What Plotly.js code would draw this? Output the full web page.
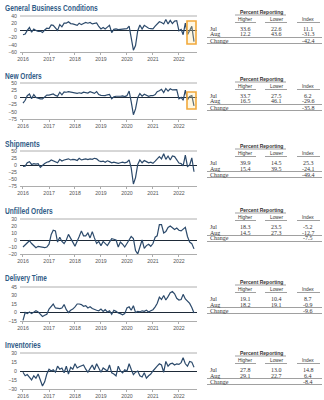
<!DOCTYPE html>
<html><head><meta charset="utf-8">
<script src="https://cdn.plot.ly/plotly-3.0.1.min.js"></script>
<style>html,body{margin:0;padding:0;background:#fff}#c{width:324px;height:400px}</style>
</head><body><div id="c"></div>
<script>
// ---- data (monthly, Jan 2016 – Aug 2022) ----
const startYear = 2016;
const panelTitles = ['General Business Conditions','New Orders','Shipments','Unfilled Orders','Delivery Time','Inventories'];
const generalBusiness = [-12,-10,0,8,-5,4,0,-3,-2,-6,1,6, 5,15,14,6,0,16,10,20,20,24,19,18, 17,14,20,16,19,22,20,22,18,20,21,11, 4,8,4,9,14,-6,3,4,2,3,3,4, 5,12,-20,-55,-42,-1,15,4,14,10,6,5, 4,12,17,24,22,18,30,18,28,19,26,27, -1,3,-12,20,-12,-2,11.1,-31.3];
const newOrders = [-20,-10,6,12,-5,10,0,-3,-5,-5,3,8, 8,10,12,7,4,18,9,19,18,20,18,17, 16,14,16,14,18,17,15,20,16,14,20,10, 7,6,6,9,10,-5,2,4,3,4,5,3, 6,22,-15,-60,-40,0,13,4,11,8,4,6, 6,10,20,23,28,17,31,22,30,26,27,27, -5,0,-10,25,-9,3,6.2,-29.6];
const shipments = [-5,-4,8,12,2,5,3,5,-8,0,5,10, 12,18,15,10,8,20,14,18,20,22,18,20, 19,16,24,18,20,22,19,22,20,24,22,15, 12,14,10,15,12,8,10,9,6,8,10,8, 10,18,-10,-68,-45,2,18,8,16,12,8,10, 6,14,22,30,22,40,20,32,18,32,30,16, 7,5,-3,35,-5,0,25.3,-24.1];
const unfilledOrders = [-10,-7,-4,-1,-5,-8,-11,-9,-10,-10,-11,-10, -6,8,14,13,-3,4,-2,-5,0,8,3,-3, -9,0,5,13,6,6,10,3,12,3,-5,-2, -8,-2,-5,-8,-3,2,1,0,-10,-3,-6,-10, -5,0,5,2,-15,-20,-10,0,-12,-8,-6,-9, -5,4,6,22,22,10,12,18,20,18,15,17, 14,13,16,18,5,-3,-5.2,-12.7];
const deliveryTime = [-14,0,-2,1,-2,0,3,1,-4,-7,-5,-3, 6,12,15,8,7,7,8,14,5,0,4,6, 10,15,15,14,11,12,8,10,7,5,4,3, 6,2,5,1,3,-3,4,2,-1,-2,-4,-2, 8,10,4,12,0,2,1,3,2,4,1,3, 5,10,16,27,23,30,22,28,35,37,33,25, 22,23,32,24,20,16,8.7,-0.9];
const inventories = [-2,-8,-6,-10,-15,-8,-12,-5,-15,-25,-18,-5, 3,0,2,-2,8,3,5,-3,8,-5,6,3, 12,5,7,8,10,3,-2,4,10,2,12,5, -2,5,2,0,10,-3,-5,-8,8,0,-3,2, 0,12,3,-6,-2,0,-8,-10,-3,-12,-8,-5, 0,5,8,12,10,-2,16,8,12,13,10,12, 11,14,22,12,8,16,14.8,6.4];
const yRanges = [[-60,40],[-75,50],[-75,50],[-20,30],[-15,45],[-30,30]];
const yDticks = [20,25,25,10,15,15];
const rowLabels = ['Jul','Aug','Change'];
const higher = [[33.6,12.2],[33.7,16.5],[39.9,15.4],[18.3,14.5],[19.1,18.2],[27.8,29.1]];
const lower  = [[22.6,43.6],[27.5,46.1],[14.5,39.5],[23.5,27.3],[10.4,19.1],[13.0,22.7]];
const indexVals = [[11.1,-31.3,-42.4],[6.2,-29.6,-35.8],[25.3,-24.1,-49.4],[-5.2,-12.7,-7.5],[8.7,-0.9,-9.6],[14.8,6.4,-8.4]];
const series = [generalBusiness,newOrders,shipments,unfilledOrders,deliveryTime,inventories];

// ---- layout geometry (pixels) ----
const W=324,H=400;
const px=x=>x/W, py=y=>1-y/H;
const plotTop=[16,83,151,219,287,353], plotBot=[52,119,186,254,321,389];
const titleY=[8,76,144,211,278,345];
const titleW=[93,37,35,48,42,36];
const tableY=[12,79,146,210,282,353];
const X0=20,X1=197;

const dates=[];
for(let i=0;i<generalBusiness.length;i++){const y=startYear+Math.floor(i/12),m=i%12+1;dates.push(y+'-'+String(m).padStart(2,'0')+'-01');}

const fmt=v=>v.toFixed(1);
const data=[],annotations=[],shapes=[],titleIdx=[];
const layout={width:W,height:H,margin:{l:0,r:0,t:0,b:0},paper_bgcolor:'#fff',plot_bgcolor:'#fff',showlegend:false,font:{family:'Liberation Sans, Arial, sans-serif',color:'#444'}};
const lineC='#2c4a6b', titleC='#2f5b86', txtC='#333', rule='#777';
const serif='Liberation Serif, Times New Roman, serif';
series.forEach((s,k)=>{
  const n=k+1, xa='xaxis'+(n>1?n:''), ya='yaxis'+(n>1?n:'');
  const xr='x'+(n>1?n:''), yr='y'+(n>1?n:'');
  data.push({x:dates,y:s,type:'scatter',mode:'lines',line:{color:lineC,width:1.2},xaxis:xr,yaxis:yr,hoverinfo:'skip'});
  layout[xa]={domain:[px(X0),px(X1)],anchor:yr,range:['2015-11-20','2022-09-12'],type:'date',tick0:'2016-01-01',dtick:'M12',tickformat:'%Y',
    showgrid:false,zeroline:false,showline:true,linecolor:'#999',linewidth:0.8,ticks:'outside',ticklen:2,tickcolor:'#999',tickwidth:0.8,
    tickfont:{size:5.2,color:'#555'},fixedrange:true};
  layout[ya]={domain:[py(plotBot[k]),py(plotTop[k])],anchor:xr,range:yRanges[k],dtick:yDticks[k],tick0:0,showgrid:false,
    zeroline:true,zerolinecolor:'#1e2a38',zerolinewidth:1,showline:false,ticks:'',tickfont:{size:5.2,color:'#555'},ticklabelstandoff:2,fixedrange:true};
  shapes.push({type:'line',xref:'paper',yref:'paper',x0:px(X0),x1:px(X1),y0:py(plotTop[k]),y1:py(plotTop[k]),line:{color:'#999',width:0.8}});
  titleIdx.push(annotations.length);
  annotations.push({text:'<b>'+panelTitles[k]+'</b>',xref:'paper',yref:'paper',x:px(3),y:py(titleY[k]),xanchor:'left',yanchor:'middle',showarrow:false,
    font:{family:'Liberation Sans, Arial, sans-serif',size:8.5,color:titleC}});
  const t=tableY[k];
  const colX=[245,276,308];
  const A=(txt,x,y,opt)=>annotations.push(Object.assign({text:txt,xref:'paper',yref:'paper',x:px(x),y:py(y),xanchor:'center',yanchor:'middle',showarrow:false,font:{size:4.8,color:txtC}},opt||{}));
  A('<b>Percent Reporting</b>',261,t,{font:{size:5,color:txtC}});
  shapes.push({type:'line',xref:'paper',yref:'paper',x0:px(235),x1:px(286),y0:py(t+3),y1:py(t+3),line:{color:rule,width:0.7}});
  A('Higher',colX[0],t+7.5); A('Lower',colX[1],t+7.5); A('Index',colX[2],t+7.5);
  [[235,256],[265,287],[297,320]].forEach(seg=>shapes.push({type:'line',xref:'paper',yref:'paper',x0:px(seg[0]),x1:px(seg[1]),y0:py(t+10.5),y1:py(t+10.5),line:{color:rule,width:0.7}}));
  const rowY=[t+16.5,t+22.5,t+28.5];
  const sf={family:serif,size:6,color:txtC};
  rowLabels.forEach((lab,r)=>A(lab,208,rowY[r],{xanchor:'left',font:sf}));
  for(let r=0;r<2;r++){ A(fmt(higher[k][r]),colX[0],rowY[r],{font:sf}); A(fmt(lower[k][r]),colX[1],rowY[r],{font:sf}); }
  for(let r=0;r<3;r++) A(fmt(indexVals[k][r]),colX[2],rowY[r],{font:sf});
  shapes.push({type:'line',xref:'paper',yref:'paper',x0:px(207),x1:px(322),y0:py(t+25.5),y1:py(t+25.5),line:{color:rule,width:0.7}});
  shapes.push({type:'line',xref:'paper',yref:'paper',x0:px(207),x1:px(322),y0:py(t+31.5),y1:py(t+31.5),line:{color:rule,width:0.7}});
});
[[187,21,196,44],[187,92,196,109]].forEach(b=>shapes.push({type:'rect',xref:'paper',yref:'paper',x0:px(b[0]),x1:px(b[2]),y0:py(b[3]),y1:py(b[1]),
  line:{color:'#f2a93b',width:1.6},fillcolor:'rgba(255,225,140,0.25)'}));
layout.annotations=annotations; layout.shapes=shapes;
Plotly.newPlot('c',data,layout,{staticPlot:true,displayModeBar:false}).then(gd=>{
  // condense panel titles horizontally to match the narrow typeface of the reference
  titleIdx.forEach((ai,k)=>{
    const g=gd.querySelector('g.annotation[data-index="'+ai+'"] text.annotation-text');
    if(!g) return;
    const bb=g.getBBox();
    const s=Math.min(1,titleW[k]/bb.width);
    const l=bb.x;
    g.setAttribute('transform','translate('+l+',0) scale('+s+',1) translate('+(-l)+',0)');
  });
});
</script></body></html>
